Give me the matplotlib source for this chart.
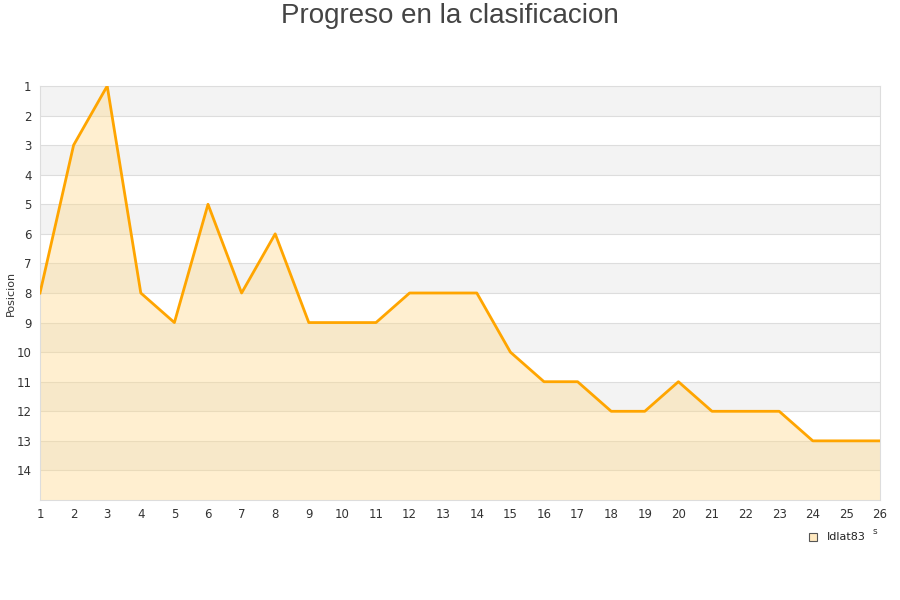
import matplotlib.pyplot as plt
from matplotlib.patches import Rectangle

# Data
jornadas = list(range(1, 27))
posicion = [8, 3, 1, 8, 9, 5, 8, 6, 9, 9, 9, 8, 8, 8, 10, 11, 11, 12, 12, 11, 12, 12, 12, 13, 13, 13]
y_ticks = list(range(1, 15))
equipo = 'Idlat83'

fig = plt.figure(figsize=(9, 6), dpi=100)
ax = fig.add_axes([40 / 900, 1 - 500 / 600, 840 / 900, 414 / 600])

# alternating background bands
for k in range(1, 15, 2):
    ax.axhspan(k, k + 1, color='#f3f3f3', zorder=0, lw=0)
for t in y_ticks[1:]:
    ax.axhline(t, color='#dddddd', lw=0.8, zorder=1)

ax.fill_between(jornadas, posicion, 15, color='#ffd98a', alpha=0.4, lw=0, zorder=2)
ax.plot(jornadas, posicion, color='#ffa500', lw=2.0, zorder=3)

ax.set_xlim(1, 26)
ax.set_ylim(15, 1)
ax.set_xticks(jornadas)
ax.set_yticks(y_ticks)
ax.tick_params(length=0, labelsize=8.5, colors='#333333', pad=6)
for s in ax.spines.values():
    s.set_color('#dddddd')

ax.set_ylabel('Posicion', fontsize=8, color='#333333', labelpad=4)
ax.yaxis.set_label_coords(-0.029, 0.5)

fig.text(0.5, 1 - 16 / 600, 'Progreso en la clasificacion', ha='center', va='center',
         fontsize=20, color='#444444', family='Liberation Sans')

# legend
fig.patches.append(Rectangle((809 / 900, 1 - 541 / 600), 8 / 900, 8 / 600,
                             transform=fig.transFigure, facecolor='#ffe9c0',
                             edgecolor='#555555', lw=0.8))
fig.text(827 / 900, 1 - 537 / 600, equipo, fontsize=8, va='center', color='#222222')
fig.text(875 / 900, 1 - 532 / 600, 's', fontsize=6.5, va='center', ha='center', color='#333333')

fig.savefig('out.png', dpi=100)
